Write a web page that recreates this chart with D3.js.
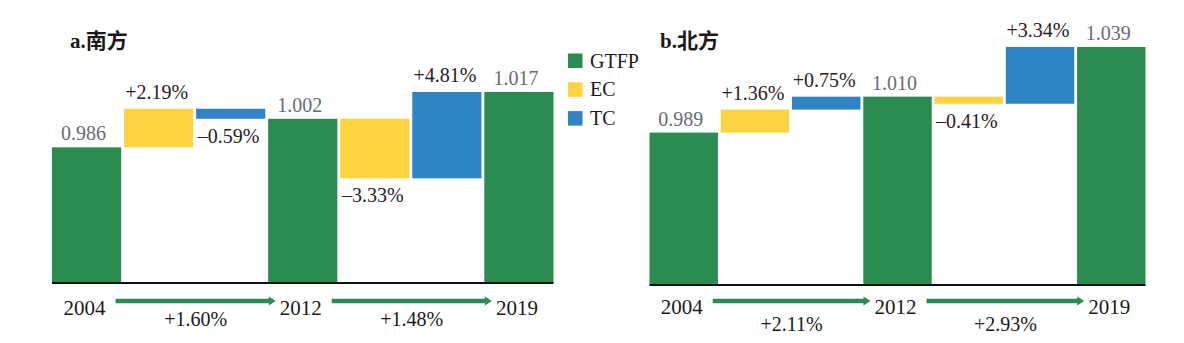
<!DOCTYPE html>
<html><head><meta charset="utf-8">
<script src="https://cdn.jsdelivr.net/npm/d3@7"></script>
<style>
html,body{margin:0;padding:0;background:#fff;}
svg{display:block;}
text{font-family:"Liberation Serif","Times New Roman",serif;}
</style></head>
<body><svg id="c" width="1184" height="343"></svg>
<script>
// ---- data ----
const panelTitles = ["a.南方", "b.北方"];
const years = ["2004", "2012", "2019"];
const legendLabels = ["GTFP", "EC", "TC"];
const southGTFP = [0.986, 1.002, 1.017];
const southEC = [2.19, -3.33];
const southTC = [-0.59, 4.81];
const southGrowth = [1.60, 1.48];
const northGTFP = [0.989, 1.010, 1.039];
const northEC = [1.36, -0.41];
const northTC = [0.75, 3.34];
const northGrowth = [2.11, 2.93];

// ---- styles ----
const colors = {GTFP: "#2a8c50", EC: "#fdd43f", TC: "#2f84c6"};
const valueColor = "#686b76";
const pctColor = "#2a2024";

const svg = d3.select("#c");

const panels = [
  {title: panelTitles[0], gtfp: southGTFP, ec: southEC, tc: southTC, growth: southGrowth,
   x0: 52, x1: 553.5, yDomain: [0.91, 1.017], yRange: [283, 92], titleX: 70,
   yearY: 314.5, growthY: 326},
  {title: panelTitles[1], gtfp: northGTFP, ec: northEC, tc: northTC, growth: northGrowth,
   x0: 649.5, x1: 1145.5, yDomain: [0.90, 1.039], yRange: [285, 47], titleX: 660,
   yearY: 313.5, growthY: 331}
];

function fmtPct(v) {
  return (v >= 0 ? "+" : "\u2013") + Math.abs(v).toFixed(2) + "%";
}

panels.forEach(p => {
  const g = svg.append("g");
  const y = d3.scaleLinear().domain(p.yDomain).range(p.yRange);
  const base = p.yDomain[0];
  // build waterfall items
  const items = [];
  for (let i = 0; i < p.gtfp.length; i++) {
    items.push({key: "G" + i, type: "GTFP", from: base, to: p.gtfp[i], label: p.gtfp[i].toFixed(3)});
    if (i < p.ec.length) {
      const mid = p.gtfp[i] * (1 + p.ec[i] / 100);
      items.push({key: "E" + i, type: "EC", from: p.gtfp[i], to: mid, pct: p.ec[i]});
      items.push({key: "T" + i, type: "TC", from: mid, to: p.gtfp[i + 1], pct: p.tc[i]});
    }
  }
  const x = d3.scaleBand().domain(items.map(d => d.key)).range([p.x0, p.x1]).paddingInner(0.04);

  g.selectAll("rect.bar").data(items).enter().append("rect")
    .attr("x", d => x(d.key))
    .attr("width", x.bandwidth())
    .attr("y", d => y(Math.max(d.from, d.to)))
    .attr("height", d => Math.abs(y(d.from) - y(d.to)))
    .attr("fill", d => colors[d.type]);

  // value labels
  g.selectAll("text.val").data(items.filter(d => d.type === "GTFP")).enter().append("text")
    .attr("x", d => x(d.key) + x.bandwidth() / 2 - 3)
    .attr("y", d => y(d.to) - 7)
    .attr("text-anchor", "middle")
    .attr("font-size", 20)
    .attr("fill", valueColor)
    .text(d => d.label);

  // pct labels
  g.selectAll("text.pct").data(items.filter(d => d.type !== "GTFP")).enter().append("text")
    .attr("x", d => x(d.key) + x.bandwidth() / 2 - 2)
    .attr("y", d => d.pct >= 0 ? y(Math.max(d.from, d.to)) - 10 : y(Math.min(d.from, d.to)) + 24)
    .attr("text-anchor", "middle")
    .attr("font-size", 20)
    .attr("fill", pctColor)
    .text(d => fmtPct(d.pct));

  // axis line
  g.append("line")
    .attr("x1", p.x0).attr("x2", p.x1)
    .attr("y1", p.yRange[0]).attr("y2", p.yRange[0])
    .attr("stroke", "#111").attr("stroke-width", 2);

  // years
  const gItems = items.filter(d => d.type === "GTFP");
  const cx = gItems.map(d => x(d.key) + x.bandwidth() / 2);
  g.selectAll("text.year").data(years).enter().append("text")
    .attr("x", (d, i) => cx[i] - 2)
    .attr("y", p.yearY)
    .attr("text-anchor", "middle")
    .attr("font-size", 21)
    .attr("fill", "#1a1a1a")
    .text(d => d);

  // arrows
  p.growth.forEach((v, i) => {
    const ax0 = cx[i] + 29, ax1 = cx[i + 1] - 27, ay = 301;
    const head = 7, hh = 4.5, sh = 2.2;
    g.append("path")
      .attr("d", `M${ax0},${ay - sh}L${ax1 - head},${ay - sh}L${ax1 - head},${ay - hh}L${ax1},${ay}L${ax1 - head},${ay + hh}L${ax1 - head},${ay + sh}L${ax0},${ay + sh}Z`)
      .attr("fill", colors.GTFP);
    g.append("text")
      .attr("x", (ax0 + ax1) / 2)
      .attr("y", p.growthY)
      .attr("text-anchor", "middle")
      .attr("font-size", 20)
      .attr("fill", "#1a1a1a")
      .text(fmtPct(v));
  });

  // title
  g.append("text")
    .attr("x", p.titleX).attr("y", 48)
    .attr("font-size", 21).attr("font-weight", "bold")
    .attr("fill", "#1a1a1a")
    .style("font-family", '"Liberation Serif","Noto Sans CJK SC",serif')
    .text(p.title);
});

// legend
const lg = svg.append("g");
legendLabels.forEach((l, i) => {
  const ly = 53.5 + i * 28.8;
  lg.append("rect").attr("x", 568).attr("y", ly).attr("width", 14.5).attr("height", 14.5).attr("fill", colors[l]);
  lg.append("text").attr("x", 590).attr("y", ly + 14).attr("font-size", 20).attr("fill", "#1a1a1a").text(l);
});
</script></body></html>
